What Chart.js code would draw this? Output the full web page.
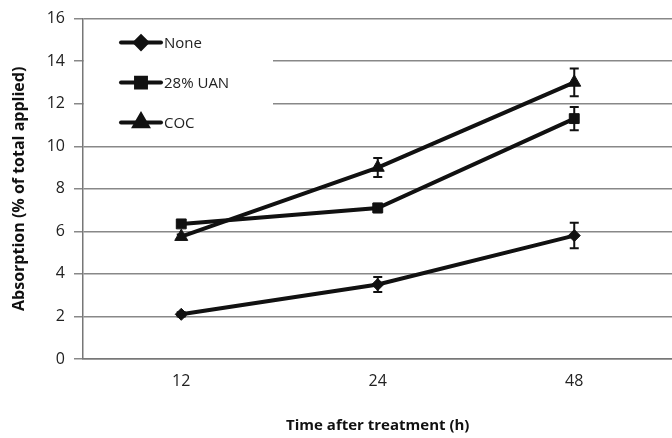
<!DOCTYPE html>
<html>
<head>
<meta charset="utf-8">
<script src="https://cdn.jsdelivr.net/npm/chart.js@4.4.0/dist/chart.umd.min.js"></script>
<style>
  html, body { margin: 0; padding: 0; background: #fff; overflow: hidden; }
  #wrap { width: 681px; height: 438px; }
</style>
</head>
<body>
<div id="wrap"><canvas id="chart"></canvas></div>
<script>
// Absorption over time for three treatments, with error bars
const times = ['12', '24', '48'];
const noneVals = [2.1, 3.5, 5.8];
const noneErr = [0.1, 0.35, 0.6];
const uanVals = [6.35, 7.1, 11.3];
const uanErr = [0.1, 0.2, 0.55];
const cocVals = [5.75, 9.0, 13.0];
const cocErr = [0.1, 0.45, 0.65];
const yTicks = [0, 2, 4, 6, 8, 10, 12, 14, 16];

const FONT = '"Open Sans", sans-serif';
const INK = '#111';

// error bars from the errors array stored on each dataset
const errorBars = {
  id: 'errorBars',
  afterDatasetsDraw(chart) {
    const ctx = chart.ctx;
    const y = chart.scales.y;
    ctx.save();
    ctx.strokeStyle = INK;
    ctx.lineWidth = 2;
    chart.data.datasets.forEach((ds, i) => {
      const meta = chart.getDatasetMeta(i);
      meta.data.forEach((pt, j) => {
        const v = ds.data[j], e = ds.errors[j];
        const top = y.getPixelForValue(v + e);
        const bot = y.getPixelForValue(v - e);
        ctx.beginPath();
        ctx.moveTo(pt.x, top); ctx.lineTo(pt.x, bot);
        ctx.moveTo(pt.x - 4.5, top); ctx.lineTo(pt.x + 4.5, top);
        ctx.moveTo(pt.x - 4.5, bot); ctx.lineTo(pt.x + 4.5, bot);
        ctx.stroke();
      });
    });
    ctx.restore();
  }
};

// legend box inside the plot, covering the gridlines behind it
const innerLegend = {
  id: 'innerLegend',
  beforeDatasetsDraw(chart) {
    const ctx = chart.ctx;
    const a = chart.chartArea;
    ctx.save();
    ctx.fillStyle = '#fff';
    ctx.fillRect(a.left + 1, a.top + 3, 189, 115);
    chart.data.datasets.forEach((ds, i) => {
      const cy = a.top + 24 + i * 40;
      const x0 = a.left + 38;
      ctx.strokeStyle = INK;
      ctx.lineWidth = 4;
      ctx.lineCap = 'round';
      ctx.beginPath();
      ctx.moveTo(x0, cy); ctx.lineTo(x0 + 40, cy);
      ctx.stroke();
      ctx.fillStyle = INK;
      Chart.helpers.drawPoint(ctx, {
        pointStyle: ds.pointStyle, radius: ds.pointRadius, rotation: 0, borderWidth: 1
      }, x0 + 20, cy);
      ctx.fillStyle = '#222';
      ctx.font = '15px ' + FONT;
      ctx.textBaseline = 'middle';
      ctx.fillText(ds.label, x0 + 43, cy + 1);
    });
    ctx.restore();
  }
};

function series(label, data, errors, style, radius) {
  return {
    label, data, errors,
    borderColor: INK, backgroundColor: INK,
    borderWidth: 4,
    pointStyle: style, pointRadius: radius, pointHoverRadius: radius,
    pointBackgroundColor: INK, pointBorderColor: INK, pointBorderWidth: 1,
    tension: 0
  };
}

new Chart(document.getElementById('chart'), {
  type: 'line',
  data: {
    labels: times,
    datasets: [
      series('None', noneVals, noneErr, 'rectRot', 6),
      series('28% UAN', uanVals, uanErr, 'rect', 7),
      series('COC', cocVals, cocErr, 'triangle', 7.5)
    ]
  },
  plugins: [innerLegend, errorBars],
  options: {
    responsive: true,
    maintainAspectRatio: false,
    animation: false,
    layout: { padding: { top: 18, right: 0, left: 0, bottom: 0 } },
    plugins: { legend: { display: false }, tooltip: { enabled: false } },
    scales: {
      x: {
        offset: true,
        grid: { display: false, drawTicks: false },
        border: { color: '#777', width: 1.5 },
        ticks: { color: '#222', font: { family: FONT, size: 16 }, padding: 13 },
        title: {
          display: true, text: 'Time after treatment (h)', color: '#111',
          font: { family: FONT, size: 15, weight: 'bold' }, padding: { top: 14, bottom: 3 }
        },
        afterFit(s) { s.height = 79; }
      },
      y: {
        min: 0, max: 16,
        afterBuildTicks(s) { s.ticks = yTicks.map(v => ({ value: v })); },
        grid: { color: '#888', lineWidth: 1.5, tickLength: 9, drawOnChartArea: true },
        border: { color: '#777', width: 1.5 },
        ticks: { color: '#222', font: { family: FONT, size: 16 }, padding: 9 },
        title: {
          display: true, text: 'Absorption (% of total applied)', color: '#111',
          font: { family: FONT, size: 16, weight: 'bold' }, padding: { top: 10, bottom: 6 }
        },
        afterFit(s) { s.width = 83; }
      }
    }
  }
});
</script>
</body>
</html>
